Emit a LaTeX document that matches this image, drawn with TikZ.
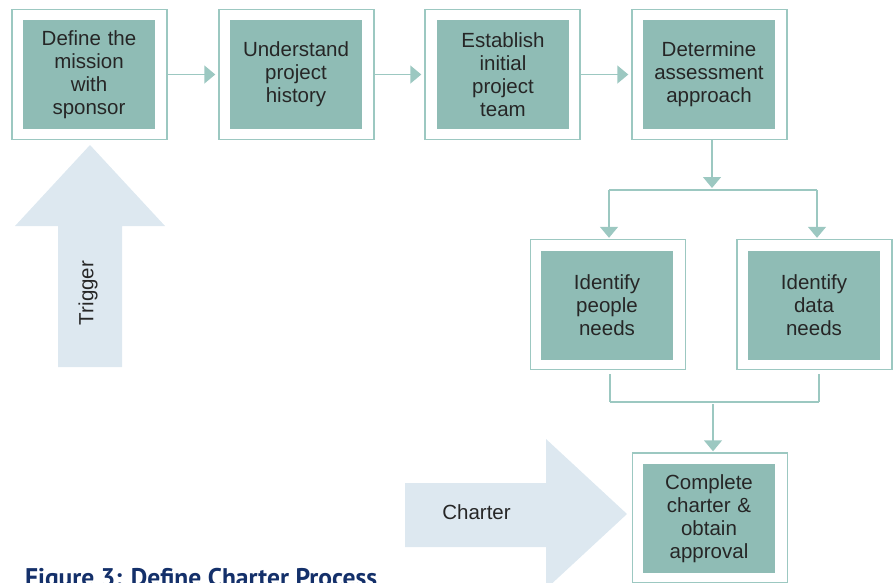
\documentclass[tikz,border=0pt]{standalone}
\usepackage{fontspec}
\setmainfont{Liberation Sans}
\newfontfamily\capfont{PT Sans}
\usetikzlibrary{arrows.meta}
\definecolor{teal1}{HTML}{8FBCB5}
\definecolor{edge1}{HTML}{9CC8C1}
\definecolor{pale}{HTML}{DDE8F0}
\definecolor{navy}{HTML}{14306A}
\begin{document}
\begin{tikzpicture}[x=1pt,y=-1pt,
  outerbox/.style={draw=edge1, line width=1.4pt, minimum width=155pt, minimum height=130pt, inner sep=0pt},
  innerbox/.style={fill=teal1, minimum width=132pt, minimum height=109pt, text width=128pt, align=center, inner sep=0pt, font=\fontsize{20.5}{23}\selectfont, text=black!85},
  ln/.style={draw=edge1, line width=1.4pt},
  arr/.style={ln, -{Triangle[length=11pt,width=18pt]}},
  bigarrow/.style={fill=pale},
  bigtext/.style={font=\fontsize{20.5}{23}\selectfont, text=black!85}]
\clip (0,0) rectangle (894,582);
% big arrows
\fill[bigarrow] (58,367) -- (58,226) -- (15,226) -- (90,145) -- (165,226) -- (122,226) -- (122,367) -- cycle;
\node[bigtext, rotate=90] (trig) at (88,293) {Trigger};
\fill[bigarrow] (405,483) -- (546,483) -- (546,439) -- (627,514) -- (546,589) -- (546,547) -- (405,547) -- cycle;
\node[bigtext] (chart) at (476.5,512) {Charter};
% boxes
\node[outerbox] (b1) at (89.5,74.5) {};
\node[innerbox] (t1) at (89,74.5) {Define the\\mission\\with\\sponsor};
\node[outerbox] (b2) at (296.5,74.5) {};
\node[innerbox] (t2) at (296,74.5) {Understand\\project\\history};
\node[outerbox] (b3) at (502.5,74.5) {};
\node[innerbox] (t3) at (503,74.5) {Establish\\initial\\project\\team};
\node[outerbox] (b4) at (709.5,74.5) {};
\node[innerbox] (t4) at (709,74.5) {Determine\\assessment\\approach};
\node[outerbox] (bp) at (608,304.5) {};
\node[innerbox] (tp) at (607,305.5) {Identify\\people\\needs};
\node[outerbox] (bd) at (814.5,304.5) {};
\node[innerbox] (td) at (814,305.5) {Identify\\data\\needs};
\node[outerbox] (bc) at (710,518) {};
\node[innerbox] (tc) at (709,518.5) {Complete\\charter \&\\obtain\\approval};
% connectors
\draw[arr, shorten >=3pt] (b1.east) -- (b2.west);
\draw[arr, shorten >=3pt] (b2.east) -- (b3.west);
\draw[arr, shorten >=3pt] (b3.east) -- (b4.west);
\coordinate (fork) at (712,190);
\coordinate (fl) at (609,190);
\coordinate (fr) at (817,190);
\draw[arr, shorten >=2pt] (b4.south -| fork) -- (fork);
\draw[ln] (fl) -- (fr);
\draw[arr, shorten >=1pt] (fl) -- (bp.north -| fl);
\draw[arr, shorten >=1pt] (fr) -- (bd.north -| fr);
\coordinate (ml) at (610,402);
\coordinate (mr) at (819,402);
\coordinate (mm) at (713,402);
\draw[ln] (ml) -- (mr);
\draw[ln, shorten <=4pt] (bp.south -| ml) -- (ml);
\draw[ln, shorten <=4pt] (bd.south -| mr) -- (mr);
\draw[arr, shorten <=2pt, shorten >=1pt] (mm) -- (bc.north -| mm);
% caption
\node[anchor=north west, inner sep=0pt, text=navy] (cap) at (25,568) {\resizebox{352pt}{!}{\capfont\bfseries Figure 3: Define Charter Process}};
\end{tikzpicture}
\end{document}
